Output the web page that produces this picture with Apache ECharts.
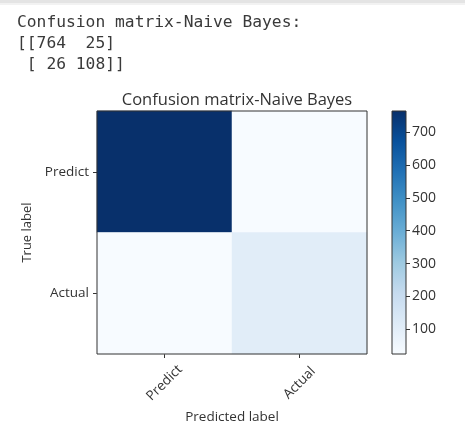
<!DOCTYPE html>
<html>
<head>
<meta charset="utf-8">
<script src="https://cdn.jsdelivr.net/npm/echarts@6/dist/echarts.min.js"></script>
<style>
  html, body { margin: 0; padding: 0; background: #ffffff; }
  #chart { width: 465px; height: 439px; }
</style>
</head>
<body>
<div id="chart"></div>
<script>
// Confusion matrix for the Naive Bayes classifier
const predictedLabels = ['Predict', 'Actual'];
const trueLabels = ['Predict', 'Actual'];
const matrixRows = [
  [764, 25],
  [26, 108]
];
const colorbarTicks = [100, 200, 300, 400, 500, 600, 700];
const chartTitle = 'Confusion matrix-Naive Bayes';

// matplotlib "Blues" colormap stops
const blues = ['#f7fbff', '#deebf7', '#c6dbef', '#9ecae1', '#6baed6',
               '#4292c6', '#2171b5', '#08519c', '#08306b'];

const flat = [];
matrixRows.forEach((row, r) => row.forEach((v, c) => flat.push([c, r, v])));
const vMin = Math.min(...flat.map(d => d[2]));
const vMax = Math.max(...flat.map(d => d[2]));

const textColor = '#333333';
const sans = '"Open Sans", "DejaVu Sans", sans-serif';

const printout = 'Confusion matrix-Naive Bayes:\n' +
  '[[' + matrixRows[0].map(v => String(v).padStart(3)).join(' ') + ']\n' +
  ' [' + matrixRows[1].map(v => String(v).padStart(3)).join(' ') + ']]';

const chart = echarts.init(document.getElementById('chart'), null, { renderer: 'canvas' });

chart.setOption({
  backgroundColor: '#ffffff',
  animation: false,
  title: {
    text: chartTitle,
    left: 232, top: 87, textAlign: 'center',
    textStyle: { fontFamily: sans, fontSize: 16.5, fontWeight: 'normal', color: textColor }
  },
  graphic: [
    { type: 'rect', left: 0, top: 0, shape: { width: 465, height: 3 }, style: { fill: '#e4e4e4' } },
    { type: 'rect', left: 0, top: 3, shape: { width: 465, height: 2 }, style: { fill: '#f2f2f2' } },
    {
      type: 'text', left: 17, top: 12,
      style: {
        text: printout,
        font: '16.3px "DejaVu Sans Mono", "Liberation Mono", monospace',
        fill: '#3a3a3a', lineHeight: 21
      }
    }
  ],
  visualMap: {
    show: false,
    min: vMin, max: vMax,
    dimension: 2,
    seriesIndex: 0,
    inRange: { color: blues }
  },
  grid: [
    { left: 97, top: 111, width: 270, height: 243, show: true, borderColor: '#333', borderWidth: 1, backgroundColor: 'transparent', z: 5 },
    { left: 392, top: 111, width: 14, height: 243, show: true, borderColor: '#333', borderWidth: 1, z: 5 }
  ],
  xAxis: [
    {
      type: 'category', gridIndex: 0, data: predictedLabels,
      axisLine: { show: false },
      axisTick: { show: true, alignWithLabel: true, length: 4, lineStyle: { color: '#333' } },
      axisLabel: {
        rotate: 45, margin: 29, align: 'center', verticalAlign: 'middle',
        fontFamily: sans, fontSize: 13.5, color: textColor
      },
      name: 'Predicted label', nameLocation: 'middle', nameGap: 51,
      nameTextStyle: { fontFamily: sans, fontSize: 13.5, color: textColor },
      splitLine: { show: false }
    },
    { type: 'category', gridIndex: 1, data: [''], show: false }
  ],
  yAxis: [
    {
      type: 'category', gridIndex: 0, data: trueLabels, inverse: true,
      axisLine: { show: false },
      axisTick: { show: true, alignWithLabel: true, length: 4, lineStyle: { color: '#333' } },
      axisLabel: { margin: 8, fontFamily: sans, fontSize: 13.5, color: textColor },
      name: 'True label', nameLocation: 'middle', nameGap: 59,
      nameTextStyle: { fontFamily: sans, fontSize: 13, color: textColor },
      splitLine: { show: false }
    },
    {
      type: 'value', gridIndex: 1, position: 'right', min: vMin, max: vMax,
      axisLine: { show: false },
      axisTick: { show: true, length: 4, customValues: colorbarTicks, lineStyle: { color: '#333' } },
      axisLabel: { margin: 6, customValues: colorbarTicks, fontFamily: sans, fontSize: 14, color: textColor },
      splitLine: { show: false }
    }
  ],
  series: [
    {
      type: 'heatmap',
      xAxisIndex: 0, yAxisIndex: 0,
      data: flat,
      itemStyle: { borderWidth: 0 }
    },
    {
      // colorbar gradient spanning the value range
      type: 'custom',
      xAxisIndex: 1, yAxisIndex: 1,
      data: [[0, vMin, vMax]],
      renderItem: function (params, api) {
        const top = api.coord([0, api.value(2)]);
        const bottom = api.coord([0, api.value(1)]);
        const cs = params.coordSys;
        const stops = blues.map((c, i) => ({ offset: 1 - i / (blues.length - 1), color: c })).reverse();
        return {
          type: 'rect',
          shape: { x: cs.x, y: top[1], width: cs.width, height: bottom[1] - top[1] },
          style: { fill: new echarts.graphic.LinearGradient(0, 0, 0, 1, stops) }
        };
      }
    }
  ]
});
</script>
</body>
</html>
